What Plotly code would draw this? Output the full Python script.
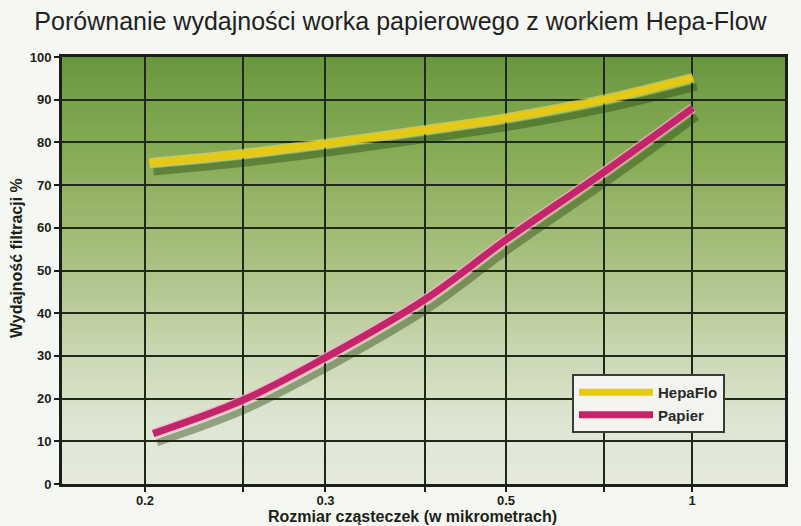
import plotly.graph_objects as go

# ---------------- data ----------------
X_TICK_POS = [1.0, 2.07, 2.98, 4.07, 4.96, 6.03, 7.0]
X_TICK_TEXT = ["0.2", "", "0.3", "", "0.5", "", "1"]

HEPA_X = [1.05, 2.07, 2.98, 4.07, 4.96, 6.03, 7.01]
HEPA_Y = [75.2, 77.3, 79.7, 82.9, 85.7, 90.0, 95.1]

PAPIER_X = [1.09, 2.07, 2.98, 4.07, 4.96, 6.03, 7.01]
PAPIER_Y = [11.8, 19.6, 29.6, 43.2, 57.2, 73.0, 88.1]

SERIES_NAMES = ["HepaFlo", "Papier"]
Y_TICKS = list(range(0, 101, 10))

TITLE = "Porównanie wydajności worka papierowego z workiem Hepa-Flow"
X_TITLE = "Rozmiar cząsteczek (w mikrometrach)"
Y_TITLE = "Wydajność filtracji %"

# ---------------- layout geometry ----------------
W, H = 801, 526
ML, MR, MT, MB = 62, 6, 57, 32
PW = W - ML - MR          # 733
PH = H - MT - MB          # 437
PLOT_W, PLOT_H = 723, 427  # visible plot area
SDX, SDY = 4, 9            # shadow offset in px

main_xdom = [0, PLOT_W / PW]
main_ydom = [(PH - PLOT_H) / PH, 1]
sh_xdom = [SDX / PW, (PLOT_W + SDX) / PW]
sh_ydom = [(PH - PLOT_H - SDY) / PH, 1 - SDY / PH]

XR = [0.09, 8.02]
YR = [0, 100]

YELLOW = "#e6c914"
MAGENTA = "#c4246a"
SHADOW = "rgba(35,70,15,0.42)"
FONT = "Liberation Sans, Arial, sans-serif"
DARK = "#1c1f18"

fig = go.Figure()

# shadows (first subplot, drawn first)
for xs, ys in [(HEPA_X, HEPA_Y), (PAPIER_X, PAPIER_Y)]:
    fig.add_trace(go.Scatter(x=xs, y=ys, mode="lines", xaxis="x", yaxis="y",
                             line=dict(color=SHADOW, width=7, shape="spline", smoothing=1.0),
                             showlegend=False, hoverinfo="skip"))

# soft outlines
fig.add_trace(go.Scatter(x=HEPA_X, y=HEPA_Y, mode="lines", xaxis="x2", yaxis="y2",
                         line=dict(color="rgba(245,225,110,0.55)", width=10, shape="spline", smoothing=1.0),
                         showlegend=False, hoverinfo="skip"))
fig.add_trace(go.Scatter(x=PAPIER_X, y=PAPIER_Y, mode="lines", xaxis="x2", yaxis="y2",
                         line=dict(color="rgba(245,175,200,0.75)", width=10, shape="spline", smoothing=1.0),
                         showlegend=False, hoverinfo="skip"))

# main lines
fig.add_trace(go.Scatter(x=HEPA_X, y=HEPA_Y, mode="lines", name=SERIES_NAMES[0],
                         xaxis="x2", yaxis="y2",
                         line=dict(color=YELLOW, width=7, shape="spline", smoothing=1.0)))
fig.add_trace(go.Scatter(x=PAPIER_X, y=PAPIER_Y, mode="lines", name=SERIES_NAMES[1],
                         xaxis="x2", yaxis="y2",
                         line=dict(color=MAGENTA, width=7, shape="spline", smoothing=1.0)))

# background gradient (paper-referenced shapes below everything)
stops = [(0.0, (230, 234, 222)), (0.15, (221, 229, 210)), (0.3, (203, 216, 181)),
         (0.45, (180, 200, 146)), (0.6, (158, 186, 114)), (0.75, (138, 173, 88)),
         (0.9, (119, 161, 74)), (1.0, (104, 150, 62))]


def interp(t):
    for (t0, c0), (t1, c1) in zip(stops[:-1], stops[1:]):
        if t0 <= t <= t1:
            f = (t - t0) / (t1 - t0)
            return tuple(int(round(a + (b - a) * f)) for a, b in zip(c0, c1))
    return stops[-1][1]


shapes = []
N = 70
y0d, y1d = main_ydom
for i in range(N):
    t = (i + 0.5) / N
    c = interp(t)
    shapes.append(dict(type="rect", xref="paper", yref="paper", layer="below",
                       x0=main_xdom[0], x1=main_xdom[1],
                       y0=y0d + (y1d - y0d) * i / N, y1=y0d + (y1d - y0d) * (i + 1) / N + 0.002,
                       fillcolor="rgb(%d,%d,%d)" % c, line=dict(width=0)))

fig.update_layout(
    width=W, height=H,
    margin=dict(l=ML, r=MR, t=MT, b=MB, autoexpand=False),
    paper_bgcolor="#f5f7f2",
    plot_bgcolor="rgba(0,0,0,0)",
    font=dict(family=FONT, color=DARK),
    title=dict(text=TITLE, x=0.5, xref="container", xanchor="center",
               y=1 - 21 / H, yref="container", yanchor="middle",
               font=dict(family=FONT, size=25, color="#222222")),
    shapes=shapes,
    xaxis=dict(domain=sh_xdom, range=XR, visible=False, anchor="y"),
    yaxis=dict(domain=sh_ydom, range=YR, visible=False, anchor="x"),
    xaxis2=dict(domain=main_xdom, range=XR, anchor="y2",
                tickmode="array", tickvals=X_TICK_POS, ticktext=X_TICK_TEXT,
                showgrid=True, gridcolor="#1f2a16", gridwidth=2,
                ticks="outside", ticklen=5, tickwidth=2, tickcolor=DARK,
                ticklabelstandoff=-3,
                showline=True, linecolor=DARK, linewidth=3, mirror=True,
                zeroline=False,
                tickfont=dict(family=FONT, size=13, color=DARK, weight="bold")),
    yaxis2=dict(domain=main_ydom, range=YR, anchor="x2",
                tickmode="array", tickvals=Y_TICKS,
                showgrid=True, gridcolor="#1f2a16", gridwidth=2,
                ticks="outside", ticklen=5, tickwidth=2, tickcolor=DARK,
                showline=True, linecolor=DARK, linewidth=3, mirror=True,
                zeroline=False,
                tickfont=dict(family=FONT, size=13, color=DARK, weight="bold")),
    legend=dict(x=(572 - ML) / PW, y=(H - MB - 374) / PH, xanchor="left", yanchor="top",
                bgcolor="#f3f4f0", bordercolor="#3a3a3a", borderwidth=2,
                font=dict(family=FONT, size=15, color="#2a2a2a", weight="bold"),
                itemwidth=74, tracegroupgap=4),
    annotations=[
        dict(text=X_TITLE, xref="paper", yref="paper", x=(412 - ML) / PW, y=(H - MB - 516) / PH,
             xanchor="center", yanchor="middle", showarrow=False,
             font=dict(family=FONT, size=16, color=DARK, weight="bold")),
        dict(text=Y_TITLE, xref="paper", yref="paper", x=(16 - ML) / PW, y=(H - MB - 258) / PH,
             xanchor="center", yanchor="middle", showarrow=False, textangle=-90,
             font=dict(family=FONT, size=16, color=DARK, weight="bold")),
    ],
)

fig.write_html("out.html", config={"displayModeBar": False},
               post_script="document.body.style.margin='0';")
